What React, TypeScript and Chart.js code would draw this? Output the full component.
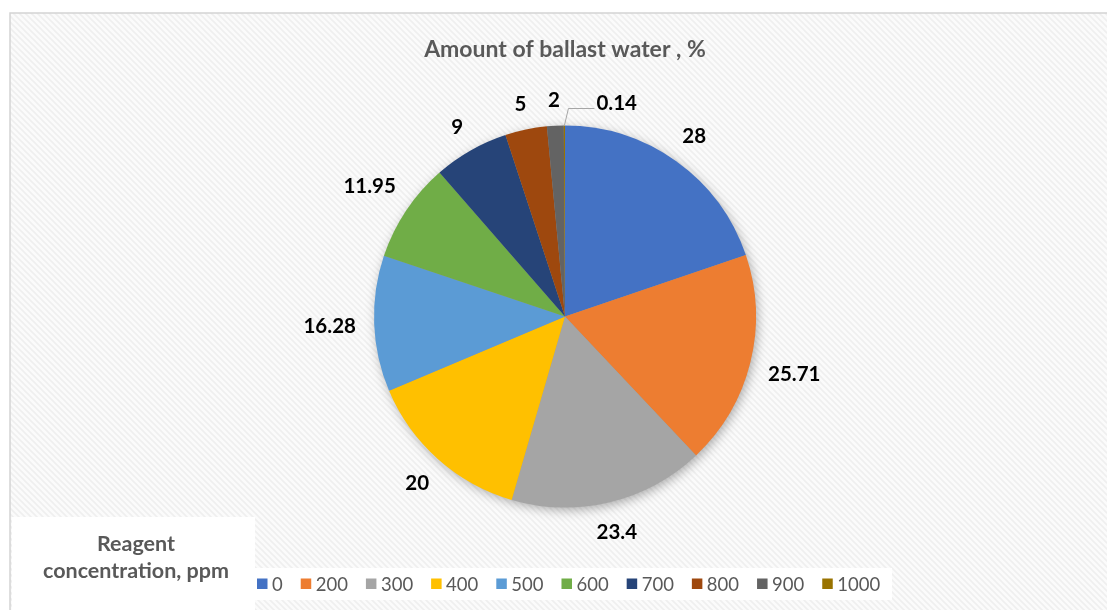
import React, { useEffect, useRef } from "react";
import { Chart, registerables } from "chart.js";

Chart.register(...registerables);

const categories = ["0", "200", "300", "400", "500", "600", "700", "800", "900", "1000"];
const values = [28, 25.71, 23.4, 20, 16.28, 11.95, 9, 5, 2, 0.14];
const valueLabels = ["28", "25.71", "23.4", "20", "16.28", "11.95", "9", "5", "2", "0.14"];
const colors = ["#4472C4", "#ED7D31", "#A5A5A5", "#FFC000", "#5B9BD5", "#70AD47", "#264478", "#9E480E", "#636363", "#997300"];
const chartTitle = "Amount of ballast water , %";
const legendTitle = ["Reagent", "concentration, ppm"];

const W = 1107;
const H = 610;
const FONT = "Lato, 'Open Sans', sans-serif";

const backgroundPlugin = {
  id: "bgPlugin",
  beforeDraw(chart: any) {
    const ctx = chart.ctx as CanvasRenderingContext2D;
    ctx.save();
    ctx.fillStyle = "#ffffff";
    ctx.fillRect(0, 0, W, H);
    const tile = document.createElement("canvas");
    tile.width = 6;
    tile.height = 6;
    const t = tile.getContext("2d")!;
    t.fillStyle = "#fbfbfb";
    t.fillRect(0, 0, 6, 6);
    t.strokeStyle = "#efefef";
    t.lineWidth = 1.6;
    t.beginPath();
    t.moveTo(-1, -1);
    t.lineTo(7, 7);
    t.moveTo(-1, 5);
    t.lineTo(1, 7);
    t.moveTo(5, -1);
    t.lineTo(7, 1);
    t.stroke();
    const pat = ctx.createPattern(tile, "repeat");
    if (pat) ctx.fillStyle = pat;
    ctx.fillRect(10, 13, W - 10, H - 13);
    ctx.strokeStyle = "#d4d4d4";
    ctx.lineWidth = 1.5;
    ctx.beginPath();
    ctx.moveTo(10, H);
    ctx.lineTo(10, 13);
    ctx.lineTo(W, 13);
    ctx.stroke();
    ctx.fillStyle = "#ffffff";
    ctx.fillRect(12, 517, 243, H - 517);
    ctx.fillRect(255, 568, 637, 32);
    ctx.restore();
  },
  beforeDatasetsDraw(chart: any) {
    const ctx = chart.ctx as CanvasRenderingContext2D;
    const el = chart.getDatasetMeta(0).data[0];
    if (!el) return;
    const { x, y, outerRadius } = el.getProps(["x", "y", "outerRadius"], true);
    ctx.save();
    ctx.shadowColor = "rgba(0,0,0,0.35)";
    ctx.shadowBlur = 12;
    ctx.shadowOffsetX = 2;
    ctx.shadowOffsetY = 3;
    ctx.beginPath();
    ctx.arc(x, y, outerRadius - 1, 0, Math.PI * 2);
    ctx.fillStyle = "#999999";
    ctx.fill();
    ctx.restore();
  },
};

const labelsPlugin = {
  id: "labelsPlugin",
  afterDatasetsDraw(chart: any) {
    const ctx = chart.ctx as CanvasRenderingContext2D;
    const meta = chart.getDatasetMeta(0);
    const total = values.reduce((a, b) => a + b, 0);
    const fs = 20.5;
    ctx.save();
    ctx.font = `bold ${fs}px ${FONT}`;
    ctx.fillStyle = "#000000";
    const capH = fs * 0.72;
    meta.data.forEach((el: any, i: number) => {
      const { x, y, startAngle, endAngle, outerRadius } = el.getProps(
        ["x", "y", "startAngle", "endAngle", "outerRadius"],
        true
      );
      const mid = (startAngle + endAngle) / 2;
      const c = Math.cos(mid);
      const s = Math.sin(mid);
      const text = valueLabels[i];
      const w = ctx.measureText(text).width;
      if (values[i] / total < 0.01) {
        const px = x + c * outerRadius;
        const py = y + s * outerRadius;
        const qx = px + 4;
        const qy = py - 17;
        const rx = qx + 26;
        ctx.strokeStyle = "#a6a6a6";
        ctx.lineWidth = 1;
        ctx.beginPath();
        ctx.moveTo(px, py);
        ctx.lineTo(qx, qy);
        ctx.lineTo(rx, qy);
        ctx.stroke();
        ctx.textAlign = "left";
        ctx.textBaseline = "alphabetic";
        ctx.fillText(text, rx + 2, qy - 6 + capH / 2);
      } else {
        const d = outerRadius + 18 + (Math.abs(c) * w) / 2 + (Math.abs(s) * capH) / 2;
        ctx.textAlign = "center";
        ctx.textBaseline = "alphabetic";
        ctx.fillText(text, x + c * d, y + s * d + capH / 2);
      }
    });
    ctx.restore();
  },
  afterDraw(chart: any) {
    const ctx = chart.ctx as CanvasRenderingContext2D;
    const el = chart.getDatasetMeta(0).data[0];
    const cx = el ? el.x : W / 2;
    ctx.save();
    // title
    ctx.font = `bold 23px ${FONT}`;
    ctx.fillStyle = "#595959";
    ctx.textAlign = "center";
    ctx.textBaseline = "alphabetic";
    ctx.fillText(chartTitle, cx, 57);
    // legend title
    ctx.font = `bold 21.5px ${FONT}`;
    ctx.fillText(legendTitle[0], 136, 551);
    ctx.fillText(legendTitle[1], 136, 578);
    // legend items
    ctx.font = `18.5px ${FONT}`;
    ctx.textAlign = "left";
    let lx = 257;
    categories.forEach((cat, i) => {
      ctx.fillStyle = colors[i];
      ctx.fillRect(lx, 578.5, 10.5, 10.5);
      ctx.fillStyle = "#595959";
      ctx.fillText(cat, lx + 15, 591);
      const w = ctx.measureText(cat).width;
      lx += 15 + w + 18;
    });
    ctx.restore();
  },
};

export default function App() {
  const canvasRef = useRef<HTMLCanvasElement | null>(null);

  useEffect(() => {
    if (!canvasRef.current) return;
    const chart = new Chart(canvasRef.current, {
      type: "pie",
      data: {
        labels: categories,
        datasets: [
          {
            data: values,
            backgroundColor: colors,
            borderWidth: 0,
            borderColor: colors,
          },
        ],
      },
      options: {
        animation: false,
        responsive: false,
        devicePixelRatio: 1,
        layout: { padding: { left: 374, right: 351, top: 125, bottom: 102 } },
        plugins: {
          legend: { display: false },
          title: { display: false },
          tooltip: { enabled: false },
        },
      },
      plugins: [backgroundPlugin, labelsPlugin],
    } as any);
    return () => chart.destroy();
  }, []);

  return (
    <div style={{ position: "fixed", left: 0, top: 0, width: W, height: H, overflow: "hidden" }}>
      <canvas ref={canvasRef} width={W} height={H} style={{ display: "block", width: W, height: H }} />
    </div>
  );
}
